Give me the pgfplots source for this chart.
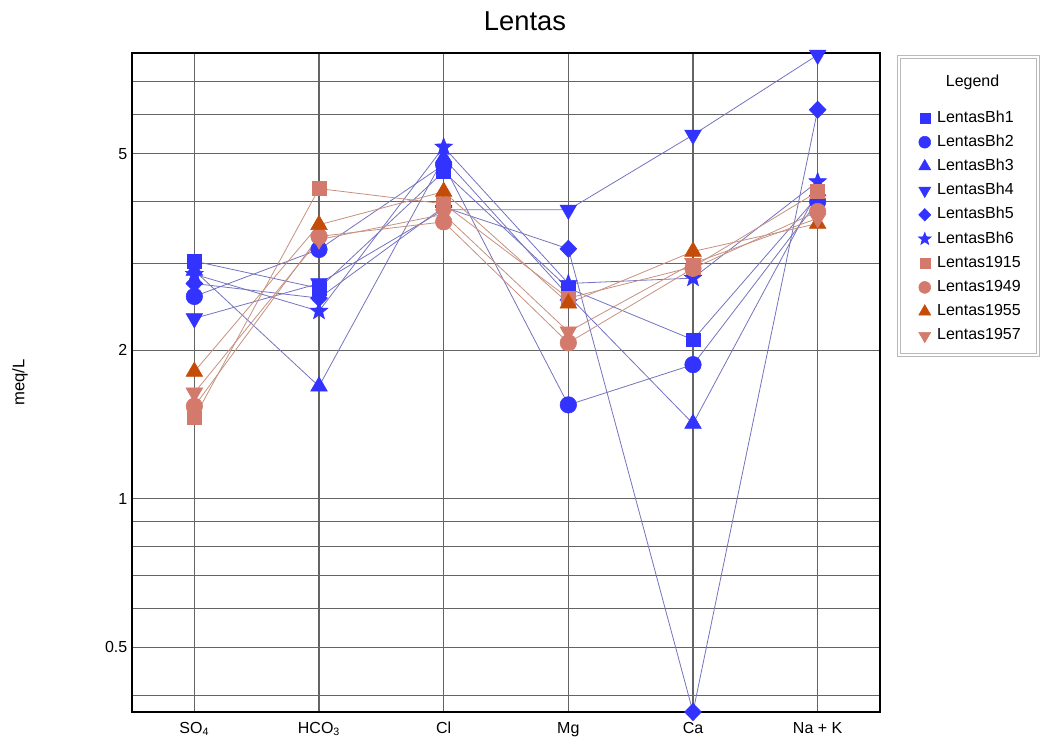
\documentclass[border=0pt]{standalone}
\usepackage{fontspec}
\setmainfont{Liberation Sans}
\usepackage{pgfplots}
\usepackage{pgfplotstable}
\pgfplotsset{compat=1.18}

\definecolor{bhblue}{RGB}{51,51,255}
\definecolor{bhline}{RGB}{115,115,190}
\definecolor{salmon}{RGB}{212,122,108}
\definecolor{rust}{RGB}{196,76,8}
\definecolor{hline}{RGB}{198,145,128}
\definecolor{gridc}{RGB}{100,100,100}

% filled five-pointed star
\pgfdeclareplotmark{fstar}{%
  \pgfpathmoveto{\pgfpointpolar{90}{\pgfplotmarksize}}%
  \pgfpathlineto{\pgfpointpolar{126}{0.42\pgfplotmarksize}}%
  \pgfpathlineto{\pgfpointpolar{162}{\pgfplotmarksize}}%
  \pgfpathlineto{\pgfpointpolar{198}{0.42\pgfplotmarksize}}%
  \pgfpathlineto{\pgfpointpolar{234}{\pgfplotmarksize}}%
  \pgfpathlineto{\pgfpointpolar{270}{0.42\pgfplotmarksize}}%
  \pgfpathlineto{\pgfpointpolar{306}{\pgfplotmarksize}}%
  \pgfpathlineto{\pgfpointpolar{342}{0.42\pgfplotmarksize}}%
  \pgfpathlineto{\pgfpointpolar{18}{\pgfplotmarksize}}%
  \pgfpathlineto{\pgfpointpolar{54}{0.42\pgfplotmarksize}}%
  \pgfpathclose
  \pgfusepathqfillstroke
}

% ions: 0 SO4, 1 HCO3, 2 Cl, 3 Mg, 4 Ca, 5 Na+K  (meq/L)
\pgfplotstableread{
x bhA bhB bhC bhD bhE bhF hA hB hC hD
0 3.03 2.57 2.90 2.32 2.73 2.85 1.46 1.54 1.81 1.64
1 2.67 3.20 1.69 2.73 2.55 2.40 4.25 3.40 3.59 3.35
2 4.60 4.75 4.90 3.85 3.90 5.16 3.96 3.64 4.19 3.77
3 2.67 1.55 2.58 3.85 3.21 2.73 2.55 2.07 2.49 2.18
4 2.10 1.87 1.42 5.46 0.37 2.80 2.95 2.93 3.17 3.00
5 4.10 4.00 4.20 7.93 6.14 4.39 4.19 3.82 3.61 3.70
}\lentas

\pgfplotsset{
  bl/.style={bhline, line width=0.6pt, forget plot},
  hl/.style={hline, line width=0.6pt, forget plot},
  mk/.style={only marks,
    mark options={draw=#1, fill=#1},
    legend image code/.code={\draw[##1, every mark/.append style={scale=0.72}] plot coordinates {(0pt,0pt)};}},
}

\begin{document}
\begin{tikzpicture}
\path[use as bounding box] (-99pt,-22.5pt) rectangle (684pt,534pt);
\begin{axis}[
  name=ax, at={(0pt,0pt)}, anchor=south west,
  scale only axis, width=561pt, height=494.25pt,
  font=\fontsize{12}{14}\selectfont,
  ymode=log, ymin=0.37, ymax=8,
  xmin=-0.5, xmax=5.5,
  xtick={0,1,2,3,4,5},
  xticklabels={SO\textsubscript{4}, HCO\textsubscript{3}, Cl, Mg, Ca, Na + K},
  ytick={0.5,1,2,5}, yticklabels={0.5,1,2,5},
  minor ytick={0.4,0.6,0.7,0.8,0.9,3,4,6,7,8},
  major tick length=0pt, minor tick length=0pt,
  xticklabel style={yshift=-4pt},
  grid=both,
  major grid style={gridc, line width=0.9pt},
  minor grid style={gridc, line width=0.9pt},
  axis line style={black, line width=1.8pt},
  ylabel={meq/L},
  ylabel style={at={(axis description cs:-0.1497,0.5)}, anchor=center, font=\fontsize{12.5}{14}\selectfont},
  clip=false,
  legend cell align=left,
  legend style={at={(1.0513,0.9135)}, anchor=north west, draw=none, fill=none,
    inner sep=0pt, outer sep=0pt, column sep=4.5pt, row sep=6.15pt,
    nodes={inner sep=0pt, text height=9pt, text depth=3pt},
    font=\fontsize{12}{14}\selectfont},
]
% connecting lines
\addplot[bl] table[x=x,y=bhA] {\lentas};
\addplot[bl] table[x=x,y=bhB] {\lentas};
\addplot[bl] table[x=x,y=bhC] {\lentas};
\addplot[bl] table[x=x,y=bhD] {\lentas};
\addplot[bl] table[x=x,y=bhE] {\lentas};
\addplot[bl] table[x=x,y=bhF] {\lentas};
\addplot[hl] table[x=x,y=hA] {\lentas};
\addplot[hl] table[x=x,y=hB] {\lentas};
\addplot[hl] table[x=x,y=hC] {\lentas};
\addplot[hl] table[x=x,y=hD] {\lentas};
% markers
\addplot[mk=bhblue, mark=square*, mark size=5.2pt] table[x=x,y=bhA] {\lentas};
\addlegendentry{LentasBh1}
\addplot[mk=bhblue, mark=*, mark size=6.2pt] table[x=x,y=bhB] {\lentas};
\addlegendentry{LentasBh2}
\addplot[mk=bhblue, mark=triangle*, mark size=7.2pt] table[x=x,y=bhC] {\lentas};
\addlegendentry{LentasBh3}
\addplot[mk=bhblue, mark=triangle*, mark size=7.2pt, every mark/.append style={rotate=180}] table[x=x,y=bhD] {\lentas};
\addlegendentry{LentasBh4}
\addplot[mk=bhblue, mark=diamond*, mark size=6.5pt, every mark/.append style={xscale=1.3}] table[x=x,y=bhE] {\lentas};
\addlegendentry{LentasBh5}
\addplot[mk=bhblue, mark=fstar, mark size=7pt] table[x=x,y=bhF] {\lentas};
\addlegendentry{LentasBh6}
\addplot[mk=salmon, mark=square*, mark size=5.2pt] table[x=x,y=hA] {\lentas};
\addlegendentry{Lentas1915}
\addplot[mk=salmon, mark=*, mark size=6.2pt] table[x=x,y=hB] {\lentas};
\addlegendentry{Lentas1949}
\addplot[mk=rust, mark=triangle*, mark size=7.2pt] table[x=x,y=hC] {\lentas};
\addlegendentry{Lentas1955}
\addplot[mk=salmon, mark=triangle*, mark size=7.2pt, every mark/.append style={rotate=180}] table[x=x,y=hD] {\lentas};
\addlegendentry{Lentas1957}
\end{axis}
\node[anchor=base, font=\fontsize{20.5}{24}\selectfont] at (294.75pt,510.75pt) {Lentas};
\draw[gray!55, line width=0.6pt, double=white, double distance=2pt] (575.25pt,267.8pt) rectangle (679.4pt,491.2pt);
\node[anchor=base, font=\fontsize{12}{14}\selectfont] at (630.4pt,468.75pt) {Legend};
\end{tikzpicture}
\end{document}
